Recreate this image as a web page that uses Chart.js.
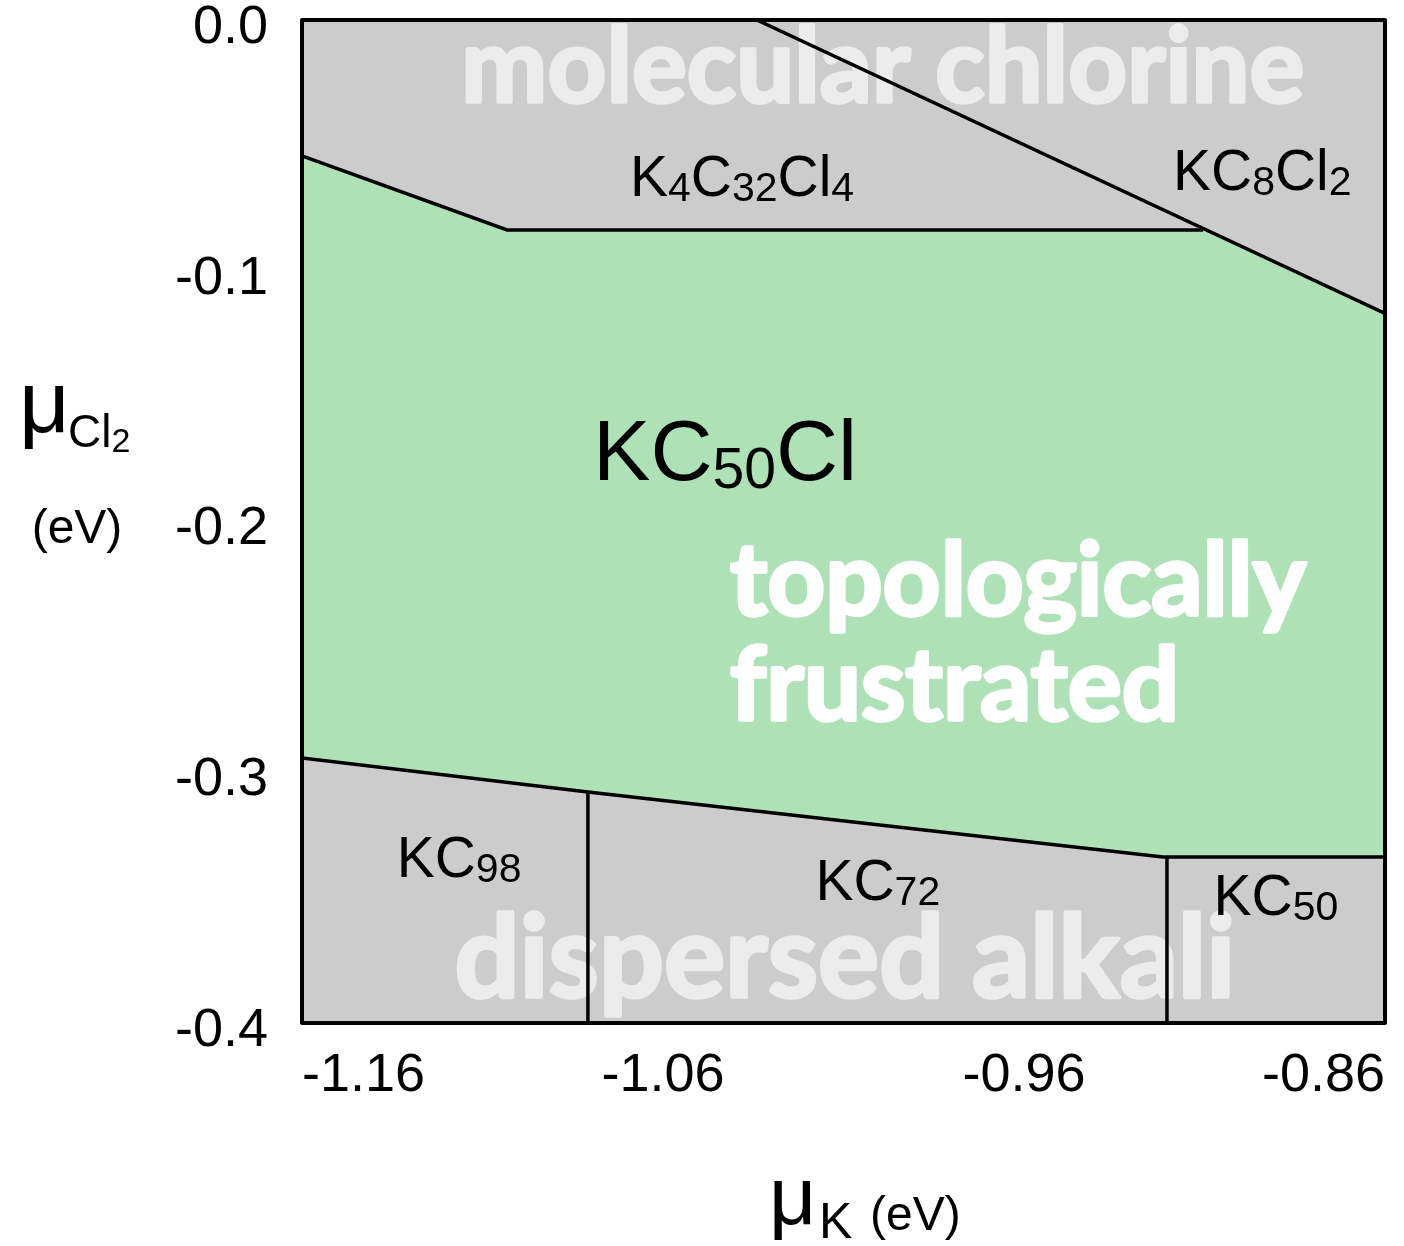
<!DOCTYPE html>
<html>
<head>
<meta charset="utf-8">
<script src="https://cdn.jsdelivr.net/npm/chart.js@4.4.1/dist/chart.umd.min.js"></script>
<style>
  html, body { margin: 0; padding: 0; background: #fff; }
</style>
</head>
<body>
<canvas id="phase" width="1404" height="1246"></canvas>
<script>
// axis ticks
const xTickValues = [-1.16, -1.06, -0.96, -0.86];
const yTickValues = [-0.4, -0.3, -0.2, -0.1, 0.0];

// phase boundaries (mu_K, mu_Cl2) in eV
const chlorineLineX = [-1.034, -0.86];
const chlorineLineY = [0.0, -0.117];
const upperBoundX = [-1.16, -1.1032, -0.9104];
const upperBoundY = [-0.0542, -0.0837, -0.0837];
const lowerBoundX = [-1.16, -1.0808, -0.9215, -0.86];
const lowerBoundY = [-0.2943, -0.3079, -0.3338, -0.3338];
const kc98SplitX = [-1.0808, -1.0808];
const kc98SplitY = [-0.3079, -0.4];
const kc50SplitX = [-0.9204, -0.9204];
const kc50SplitY = [-0.3338, -0.4];

const pts = (xs, ys) => xs.map((x, i) => ({ x, y: ys[i] }));

// KC50Cl stability region: upper boundary, out along the chlorine line, back along the lower one
const greenRegion = [
  ...pts(upperBoundX, upperBoundY),
  pts(chlorineLineX, chlorineLineY)[1],
  ...pts(lowerBoundX, lowerBoundY).reverse(),
];
greenRegion.push(greenRegion[0]);

const SANS = '"Liberation Sans", Arial, Helvetica, sans-serif';
const BOLD = 'Lato, "Open Sans", sans-serif';

const lineStyle = { showLine: true, borderColor: '#000', borderWidth: 3.5, pointRadius: 0, fill: false, tension: 0 };

// drawn with _n as subscripts
function drawFormula(ctx, str, x, y, size, subSize, drop) {
  const parts = str.split(/(_\d+)/).filter(Boolean)
    .map(p => p[0] === '_' ? { t: p.slice(1), sub: true } : { t: p, sub: false });
  let w = 0;
  parts.forEach(p => {
    ctx.font = `${p.sub ? subSize : size}px ${SANS}`;
    p.w = ctx.measureText(p.t).width;
    w += p.w;
  });
  let cx = x - w / 2;
  ctx.fillStyle = '#000';
  ctx.textAlign = 'left';
  ctx.textBaseline = 'alphabetic';
  parts.forEach(p => {
    ctx.font = `${p.sub ? subSize : size}px ${SANS}`;
    ctx.fillText(p.t, cx, y + (p.sub ? drop : 0));
    cx += p.w;
  });
}

function fitSize(ctx, text, width) {
  ctx.font = `bold 100px ${BOLD}`;
  return 100 * (width - 4) / ctx.measureText(text).width;
}

// heavy lettering: bold fill plus a thin stroke of the same colour
function heavyText(ctx, text, x, y, color) {
  ctx.fillStyle = color;
  ctx.strokeStyle = color;
  ctx.lineWidth = 3.5;
  ctx.lineJoin = 'round';
  ctx.textBaseline = 'alphabetic';
  ctx.fillText(text, x, y);
  ctx.strokeText(text, x, y);
}

function drawFitted(ctx, text, x, y, width, color) {
  ctx.font = `bold ${fitSize(ctx, text, width)}px ${BOLD}`;
  ctx.textAlign = 'center';
  heavyText(ctx, text, x, y, color);
}

const phasePlugin = {
  id: 'phases',
  beforeDatasetsDraw(chart) {
    const { ctx, chartArea: a, scales: { x, y } } = chart;
    ctx.save();
    ctx.fillStyle = '#cccccc';
    ctx.fillRect(a.left, a.top, a.width, a.height);
    drawFitted(ctx, 'molecular chlorine', x.getPixelForValue(-0.9991), y.getPixelForValue(-0.0327), 847, '#ececec');
    drawFitted(ctx, 'dispersed alkali', x.getPixelForValue(-1.0096), y.getPixelForValue(-0.3896), 785, '#ececec');
    ctx.restore();
  },
  afterDatasetsDraw(chart) {
    const { ctx, chartArea: a, scales: { x, y } } = chart;
    ctx.save();
    const left = x.getPixelForValue(-1.042) + 2;
    ctx.font = `bold ${fitSize(ctx, 'topologically', 580)}px ${BOLD}`;
    ctx.textAlign = 'left';
    heavyText(ctx, 'topologically', left, y.getPixelForValue(-0.2373), '#ffffff');
    heavyText(ctx, 'frustrated', left, y.getPixelForValue(-0.2792), '#ffffff');

    drawFormula(ctx, 'K_4C_32Cl_4', x.getPixelForValue(-1.0381), y.getPixelForValue(-0.0702), 57, 41, 5);
    drawFormula(ctx, 'KC_8Cl_2', x.getPixelForValue(-0.894), y.getPixelForValue(-0.0678), 57, 41, 5);
    drawFormula(ctx, 'KC_50Cl', x.getPixelForValue(-1.0428), y.getPixelForValue(-0.1835), 86, 57, 8);
    drawFormula(ctx, 'KC_98', x.getPixelForValue(-1.1165), y.getPixelForValue(-0.3418), 57, 41, 5);
    drawFormula(ctx, 'KC_72', x.getPixelForValue(-1.0005), y.getPixelForValue(-0.3509), 57, 41, 5);
    drawFormula(ctx, 'KC_50', x.getPixelForValue(-0.8902), y.getPixelForValue(-0.3569), 57, 41, 5);

    ctx.strokeStyle = '#000';
    ctx.lineWidth = 4;
    ctx.strokeRect(a.left, a.top, a.width, a.height);
    ctx.restore();
  },
  afterDraw(chart) {
    const { ctx } = chart;
    ctx.save();
    ctx.fillStyle = '#000';
    ctx.textAlign = 'left';
    ctx.textBaseline = 'alphabetic';
    // y title: mu_Cl2 (eV)
    ctx.font = `88px ${SANS}`;
    ctx.fillText('\u03bc', 19, 432);
    ctx.font = `46px ${SANS}`;
    ctx.fillText('Cl', 68, 447);
    const clw = ctx.measureText('Cl').width;
    ctx.font = `34px ${SANS}`;
    ctx.fillText('2', 68 + clw, 452);
    ctx.font = `48px ${SANS}`;
    ctx.textAlign = 'center';
    ctx.fillText('(eV)', 77, 543);
    // x title: mu_K (eV)
    ctx.textAlign = 'left';
    ctx.font = `82px ${SANS}`;
    ctx.fillText('\u03bc', 769, 1224);
    ctx.font = `50px ${SANS}`;
    ctx.fillText('K', 819, 1238);
    ctx.font = `48px ${SANS}`;
    ctx.fillText('(eV)', 870, 1230);
    ctx.restore();
  },
};

const tickFont = { family: SANS, size: 54 };

new Chart(document.getElementById('phase'), {
  type: 'scatter',
  data: {
    datasets: [
      { ...lineStyle, data: pts(chlorineLineX, chlorineLineY) },
      { ...lineStyle, data: pts(upperBoundX, upperBoundY) },
      { ...lineStyle, data: pts(lowerBoundX, lowerBoundY) },
      { ...lineStyle, data: pts(kc98SplitX, kc98SplitY) },
      { ...lineStyle, data: pts(kc50SplitX, kc50SplitY) },
      { data: greenRegion, showLine: true, borderWidth: 0, pointRadius: 0, backgroundColor: '#aee2b6', fill: 'shape', tension: 0 },
    ],
  },
  options: {
    responsive: false,
    animation: false,
    events: [],
    layout: { padding: { top: 20, right: 19, left: 0, bottom: 0 } },
    plugins: { legend: { display: false }, tooltip: { enabled: false } },
    scales: {
      x: {
        type: 'linear',
        min: -1.16,
        max: -0.86,
        grid: { display: false, drawTicks: false },
        border: { display: false },
        afterBuildTicks: s => { s.ticks = xTickValues.map(v => ({ value: v })); },
        afterFit: s => { s.height = 223; s.paddingLeft = 0; s.paddingRight = 0; },
        ticks: {
          align: 'inner',
          padding: 21,
          color: '#000',
          font: tickFont,
          maxRotation: 0,
          minRotation: 0,
          autoSkip: false,
          callback: v => v.toFixed(2),
        },
      },
      y: {
        type: 'linear',
        min: -0.4,
        max: 0,
        grid: { display: false, drawTicks: false },
        border: { display: false },
        afterBuildTicks: s => { s.ticks = yTickValues.map(v => ({ value: v })); },
        afterFit: s => { s.width = 302; s.paddingTop = 0; s.paddingBottom = 0; },
        ticks: {
          padding: 34,
          labelOffset: 8,
          color: '#000',
          font: tickFont,
          autoSkip: false,
          callback: v => v.toFixed(1),
        },
      },
    },
  },
  plugins: [phasePlugin],
});
</script>
</body>
</html>
